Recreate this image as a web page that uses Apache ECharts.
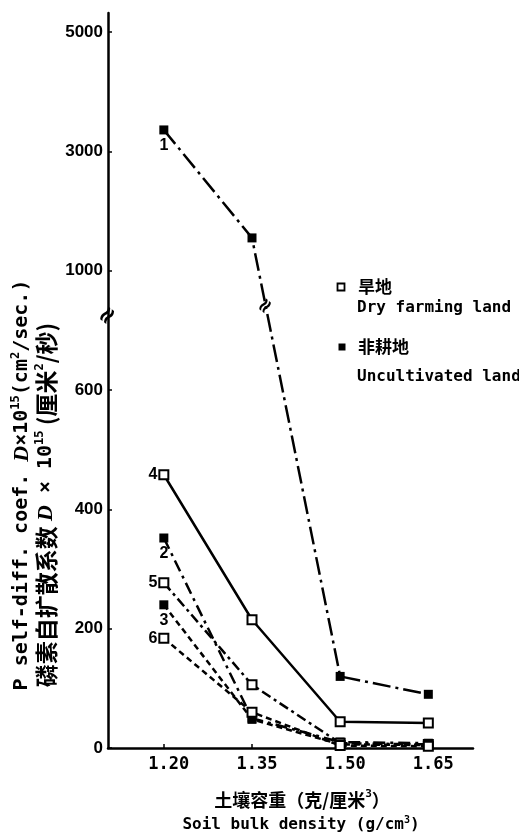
<!DOCTYPE html>
<html><head><meta charset="utf-8">
<script src="https://cdn.jsdelivr.net/npm/echarts@6/dist/echarts.min.js"></script>
<style>html,body{margin:0;padding:0;background:#fff;} #c{width:519px;height:836px;}</style>
</head><body><div id="c"></div>
<script>
// ---- data ----
const bulkDensity = [1.20, 1.35, 1.50, 1.65];
const yTickValues = [0, 200, 400, 600, 1000, 3000, 5000];
const curve1 = [3360, 1550, 120, 90];   // 非耕地 Uncultivated
const curve2 = [352, 50, 10, 8];        // 非耕地
const curve3 = [240, 48, 6, 5];         // 非耕地
const curve4 = [458, 215, 44, 42];      // 旱地 Dry farming
const curve5 = [277, 106, 8, 6];        // 旱地
const curve6 = [184, 60, 4, 3];         // 旱地

// broken axis: 0-600 step 200 per unit, 600-1000 one unit, 1000-5000 step 2000 per unit
function toAxis(v) {
  if (v <= 600) return v / 200;
  if (v <= 1000) return 3 + (v - 600) / 400;
  return 4 + (v - 1000) / 2000;
}
const BREAK_AXIS = 3.62, BREAK_LINE = 3.70;

const defs = [
  { name: '1', values: curve1, filled: true,  dash: [18, 5, 3, 5], pos: 'bottom' },
  { name: '2', values: curve2, filled: true,  dash: [12, 5, 3, 5], pos: 'bottom' },
  { name: '3', values: curve3, filled: true,  dash: [6, 4],        pos: 'bottom' },
  { name: '4', values: curve4, filled: false, dash: 'solid',       pos: 'left' },
  { name: '5', values: curve5, filled: false, dash: [10, 4, 3, 4], pos: 'left' },
  { name: '6', values: curve6, filled: false, dash: [6, 4],        pos: 'left' }
];

const X_MIN = 1.105, X_MAX = 1.726;
const chart = echarts.init(document.getElementById('c'));
const labelFont = { fontFamily: 'Liberation Sans', fontWeight: 'bold', fontSize: 16, color: '#000' };

chart.setOption({
  animation: false,
  backgroundColor: '#fff',
  grid: { left: 108, right: 46, top: 13, bottom: 88 },
  xAxis: {
    type: 'value', min: X_MIN, max: X_MAX,
    axisLine: { lineStyle: { color: '#000', width: 2.5 } },
    axisTick: { inside: true, length: 4, lineStyle: { color: '#000', width: 1.5 }, customValues: bulkDensity },
    axisLabel: {
      customValues: bulkDensity, formatter: v => v.toFixed(2), margin: 8,
      padding: [0, 0, 0, 10],
      fontFamily: 'DejaVu Sans Mono', fontWeight: 'bold', fontSize: 17, color: '#000'
    },
    splitLine: { show: false }
  },
  yAxis: {
    type: 'value', min: 0, max: 6.16,
    axisLine: { lineStyle: { color: '#000', width: 2.5 } },
    axisTick: { inside: true, length: 4, lineStyle: { color: '#000', width: 1.5 }, customValues: [0, 1, 2, 3, 4, 5, 6] },
    axisLabel: {
      customValues: [0, 1, 2, 3, 4, 5, 6], formatter: v => String(yTickValues[Math.round(v)]), margin: 5,
      fontFamily: 'Liberation Sans', fontWeight: 'bold', fontSize: 17, color: '#000'
    },
    splitLine: { show: false }
  },
  series: defs.map(d => ({
    type: 'line', name: d.name,
    symbol: 'rect', symbolSize: 9,
    itemStyle: d.filled ? { color: '#000' } : { color: '#fff', borderColor: '#000', borderWidth: 2 },
    lineStyle: { color: '#000', width: 2.5, type: d.dash },
    z: d.filled ? 3 : 4,
    data: d.values.map((v, i) => {
      const item = { value: [bulkDensity[i], toAxis(v)] };
      if (i === 0) item.label = Object.assign({ show: true, formatter: d.name, position: d.pos, distance: d.pos === 'left' ? 1 : 3 }, labelFont);
      return item;
    })
  }))
});

// decorative break marks and texts
const pAxis = chart.convertToPixel({ gridIndex: 0 }, [X_MIN, BREAK_AXIS]);
const t1 = toAxis(curve1[1]), t2 = toAxis(curve1[2]);
const xb = bulkDensity[1] + (t1 - BREAK_LINE) / (t1 - t2) * (bulkDensity[2] - bulkDensity[1]);
const pLine = chart.convertToPixel({ gridIndex: 0 }, [xb, BREAK_LINE]);

const mono = 'DejaVu Sans Mono';
const cjk = 'Noto Sans CJK SC';
function txt(x, y, text, style, rot) {
  return {
    type: 'text', x, y, rotation: rot || 0, z: 100,
    style: Object.assign({ text, fill: '#000', align: 'left', verticalAlign: 'middle', textAlign: 'left', textVerticalAlign: 'middle' }, style)
  };
}
const supRich = (fam, size, cjkSize) => ({
  m: { fontFamily: fam, fontWeight: 'bold', fontSize: size, lineHeight: size + 4 },
  c: { fontFamily: cjk, fontWeight: 'bold', fontSize: cjkSize || size, lineHeight: size + 4 },
  i: { fontFamily: 'Liberation Serif', fontStyle: 'italic', fontWeight: 'bold', fontSize: size + 2, lineHeight: size + 4 },
  s: { fontFamily: fam, fontWeight: 'bold', fontSize: Math.round(size * 0.6), verticalAlign: 'top', lineHeight: size + 4 }
});

chart.setOption({
  graphic: [
    txt(pAxis[0], pAxis[1], '≈', { font: 'bold 24px DejaVu Sans', align: 'center', textAlign: 'center' }, 0.9),
    txt(pLine[0], pLine[1], '≈', { font: 'bold 20px DejaVu Sans', align: 'center', textAlign: 'center' }, 0.9),
    // legend
    { type: 'rect', shape: { x: 337.5, y: 283.5, width: 7, height: 7 }, style: { fill: '#fff', stroke: '#000', lineWidth: 1.8 }, z: 100 },
    txt(358, 287, '旱地', { font: 'bold 17px "Noto Sans CJK SC"' }),
    txt(357, 308, 'Dry farming land', { font: 'bold 16px "DejaVu Sans Mono"' }),
    { type: 'rect', shape: { x: 338.5, y: 343.5, width: 7, height: 7 }, style: { fill: '#000' }, z: 100 },
    txt(358, 347, '非耕地', { font: 'bold 17px "Noto Sans CJK SC"' }),
    txt(357, 377, 'Uncultivated land', { font: 'bold 16px "DejaVu Sans Mono"' }),
    // x title
    txt(302, 800, '{c|土壤容重（克/厘米}{s|3}{c|）}', { rich: supRich(mono, 18), align: 'center', textAlign: 'center' }),
    txt(301, 825, '{m|Soil bulk density (g/cm}{s|3}{m|)}', { rich: supRich(mono, 16), align: 'center', textAlign: 'center' }),
    // y title
    txt(22, 485, '{m|P self-diff. coef. }{i|D}{m|×10}{s|15}{m|(cm}{s|2}{m|/sec.)}', { rich: supRich(mono, 20), align: 'center', textAlign: 'center' }, Math.PI / 2),
    txt(46, 505, '{c|磷素自扩散系数 }{i|D}{m| × 10}{s|15}{c| (厘米}{s|2}{c|/秒)}', { rich: supRich(mono, 20, 23), align: 'center', textAlign: 'center' }, Math.PI / 2)
  ]
});
</script></body></html>
